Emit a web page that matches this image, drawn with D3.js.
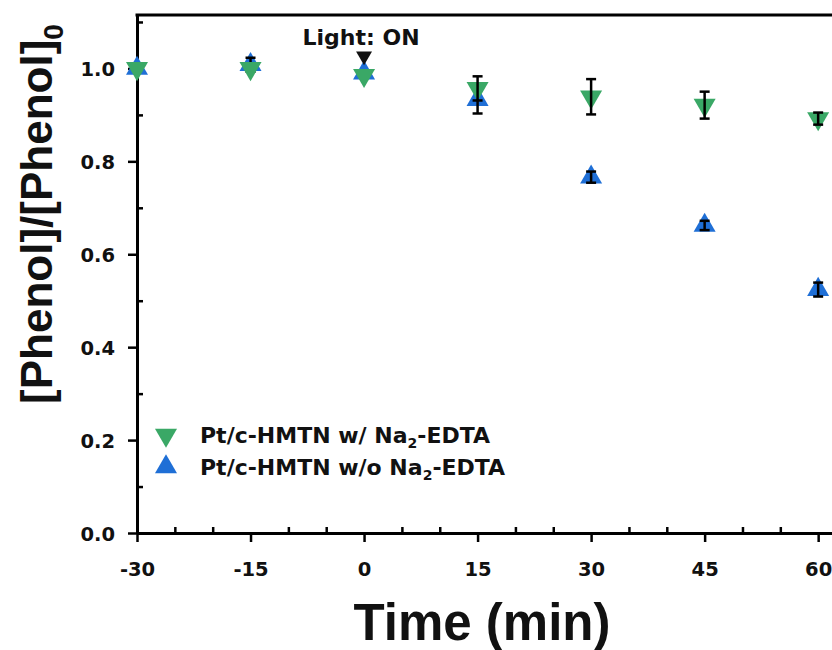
<!DOCTYPE html>
<html>
<head>
<meta charset="utf-8">
<script src="https://cdn.jsdelivr.net/npm/d3@7"></script>
<style>
  body { margin: 0; background: #fff; }
  svg { display: block; font-family: "Liberation Sans", Arial, sans-serif; font-weight: bold; }
  .small { font-family: "DejaVu Sans", sans-serif; font-weight: bold; }
</style>
</head>
<body>
<svg id="chart" width="832" height="650"></svg>
<script>
// time in minutes, light switched on at 0
const times = [-30, -15, 0, 15, 30, 45, 60];

// Pt/c-HMTN w/ Na2-EDTA
const withEdta = [1.0, 1.0, 0.985, 0.957, 0.939, 0.921, 0.892];
const withEdtaErr = [0, 0, 0, 0.026, 0.038, 0.029, 0.013];

// Pt/c-HMTN w/o Na2-EDTA
const withoutEdta = [1.0, 1.008, 0.99, 0.933, 0.766, 0.662, 0.524];
const withoutEdtaErr = [0, 0.015, 0, 0.03, 0.012, 0.01, 0.015];

const xTicks = [-30, -15, 0, 15, 30, 45, 60];
const yTicks = [0.0, 0.2, 0.4, 0.6, 0.8, 1.0];

const green = "#3aa866";
const blue = "#1f6fd6";

const width = 832, height = 650;
const margin = { top: 15, left: 137, bottom: 117, right: -24 }; // plot runs off the right edge

const svg = d3.select("#chart");
svg.append("rect").attr("width", width).attr("height", height).attr("fill", "#fff");

const x = d3.scaleLinear()
  .domain([-30, 65])
  .range([margin.left, width - margin.right]);

const y = d3.scaleLinear()
  .domain([0, 1.115])
  .range([height - margin.bottom, margin.top]);

// minor ticks, pointing inwards
const xMinor = d3.range(-25, 65, 5).filter(d => d % 15 !== 0);
const yMinor = d3.range(0.1, 1.15, 0.2);

svg.append("g")
  .attr("transform", `translate(0,${y(0)})`)
  .call(d3.axisBottom(x).tickValues(xMinor).tickSize(-6).tickFormat(""))
  .call(g => g.select(".domain").remove())
  .selectAll("line").attr("stroke-width", 2.5);

svg.append("g")
  .attr("transform", `translate(${x(-30)},0)`)
  .call(d3.axisLeft(y).tickValues(yMinor).tickSize(-6).tickFormat(""))
  .call(g => g.select(".domain").remove())
  .selectAll("line").attr("stroke-width", 2.5);

// major axes
const xAxis = svg.append("g")
  .attr("transform", `translate(0,${y(0)})`)
  .call(d3.axisBottom(x).tickValues(xTicks).tickSize(9).tickPadding(20).tickSizeOuter(0)
    .tickFormat(d => String(d)));

const yAxis = svg.append("g")
  .attr("transform", `translate(${x(-30)},0)`)
  .call(d3.axisLeft(y).tickValues(yTicks).tickSize(9).tickPadding(13).tickSizeOuter(0)
    .tickFormat(d3.format(".1f")));

[xAxis, yAxis].forEach(g => {
  g.select(".domain").attr("stroke-width", 3);
  g.selectAll(".tick line").attr("stroke-width", 2.5);
  g.selectAll(".tick text")
    .attr("fill", "#111")
    .classed("small", true)
    .style("font-size", "19.5px");
});
xAxis.selectAll(".tick text").attr("y", 29).attr("dy", "0.71em");
yAxis.selectAll(".tick text").attr("dy", "0.36em");

// top frame line
svg.append("line")
  .attr("x1", x(-30) - 1.5).attr("x2", width)
  .attr("y1", y(1.115)).attr("y2", y(1.115))
  .attr("stroke", "#000").attr("stroke-width", 3);

const tri = d3.symbol().type(d3.symbolTriangle).size(210);

function series(values, color, down) {
  svg.append("g").selectAll("path")
    .data(times)
    .join("path")
    .attr("d", tri)
    .attr("fill", color)
    .attr("transform", (t, i) => `translate(${x(t)},${y(values[i])})${down ? " rotate(180)" : ""}`);
}

function errorBars(values, errs) {
  const g = svg.append("g").attr("stroke", "#000").attr("stroke-width", 2.5);
  times.forEach((t, i) => {
    if (!errs[i]) return; // too small to see
    const cx = x(t), lo = y(values[i] - errs[i]), hi = y(values[i] + errs[i]);
    g.append("line").attr("x1", cx).attr("x2", cx).attr("y1", lo).attr("y2", hi);
    g.append("line").attr("x1", cx - 5).attr("x2", cx + 5).attr("y1", lo).attr("y2", lo);
    g.append("line").attr("x1", cx - 5).attr("x2", cx + 5).attr("y1", hi).attr("y2", hi);
  });
}

series(withoutEdta, blue, false);
errorBars(withoutEdta, withoutEdtaErr);
series(withEdta, green, true);
errorBars(withEdta, withEdtaErr);

// light on marker
svg.append("text")
  .attr("class", "small")
  .attr("x", x(0) - 3).attr("y", 45)
  .attr("text-anchor", "middle")
  .style("font-size", "22px")
  .attr("fill", "#111")
  .text("Light: ON");
svg.append("path")
  .attr("d", d3.symbol().type(d3.symbolTriangle).size(110))
  .attr("transform", `translate(${x(0)},56) rotate(180)`)
  .attr("fill", "#111");

// legend
const legend = svg.append("g").attr("transform", "translate(166,435)");
const legendItems = [
  { color: green, down: true, label: "w/" },
  { color: blue, down: false, label: "w/o" }
];
legendItems.forEach((d, i) => {
  const row = legend.append("g").attr("transform", `translate(0,${i * 32})`);
  row.append("path")
    .attr("d", tri)
    .attr("fill", d.color)
    .attr("transform", d.down ? "rotate(180)" : null);
  const t = row.append("text").attr("class", "small")
    .attr("x", 34).attr("y", 8).style("font-size", "22px").attr("fill", "#111");
  t.append("tspan").text(`Pt/c-HMTN ${d.label} Na`);
  t.append("tspan").attr("dy", 5).style("font-size", "14px").text("2");
  t.append("tspan").attr("dy", -5).text("-EDTA");
});

// axis titles
svg.append("text")
  .attr("x", 482).attr("y", 640)
  .attr("text-anchor", "middle")
  .style("font-size", "51px")
  .attr("fill", "#111")
  .text("Time (min)");

const yt = svg.append("text")
  .attr("transform", "translate(52,214) rotate(-90)")
  .attr("text-anchor", "middle")
  .style("font-size", "44px")
  .attr("fill", "#111");
yt.append("tspan").text("[Phenol]/[Phenol]");
yt.append("tspan").attr("dy", 11).style("font-size", "28px").text("0");
</script>
</body>
</html>
